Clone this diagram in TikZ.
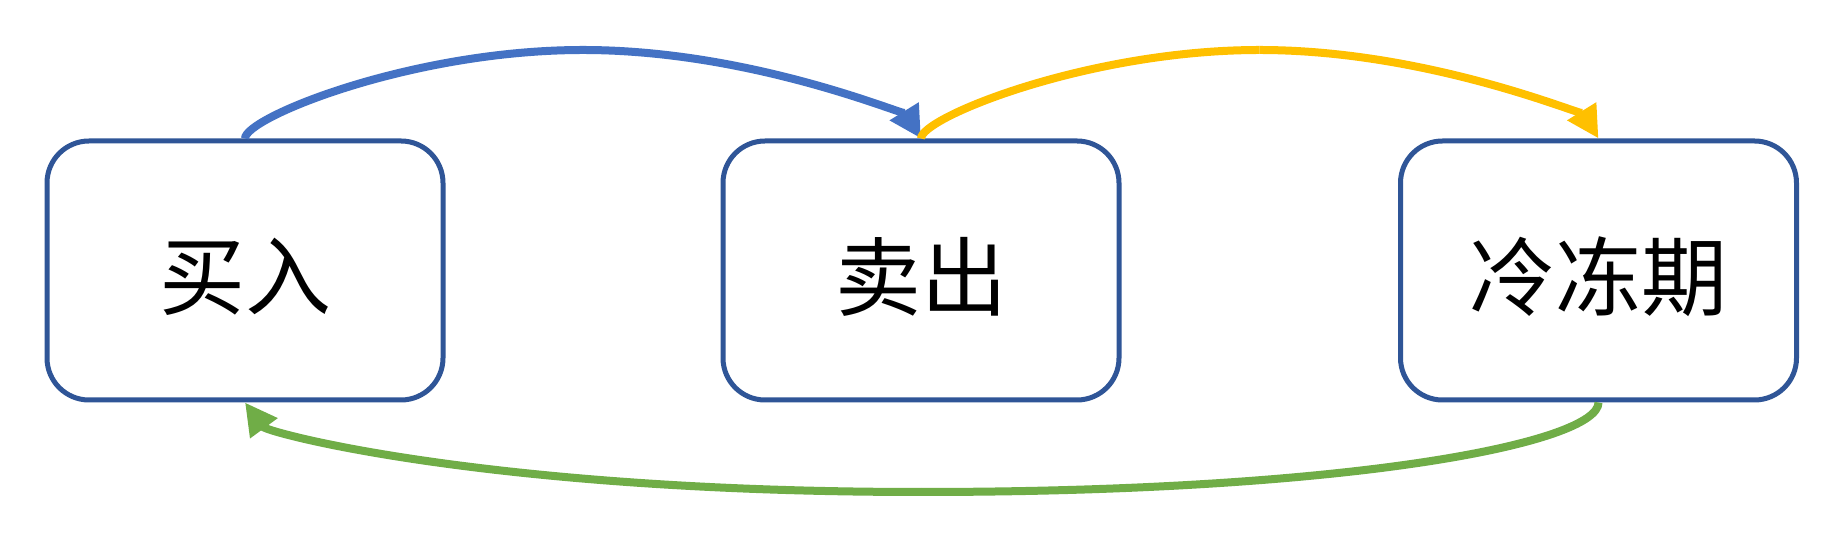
\documentclass[tikz,border=0pt]{standalone}
\usepackage{fontspec}
\newfontfamily\cjk{Noto Sans CJK SC}
\usetikzlibrary{arrows.meta}
\definecolor{boxblue}{HTML}{2F5597}
\definecolor{arrblue}{HTML}{4472C4}
\definecolor{arryellow}{HTML}{FFC000}
\definecolor{arrgreen}{HTML}{70AD47}
\tikzset{
  statebox/.style={draw=boxblue, line width=5pt, rounded corners=42pt,
    minimum width=396pt, minimum height=259pt, inner sep=0pt, fill=white},
  statetext/.style={font=\cjk\fontsize{86pt}{90pt}\selectfont, inner sep=0pt},
  flowline/.style={line width=8pt},
  flow/.style={line width=8pt, -{Triangle[length=32pt,width=32pt]}},
}
\begin{document}
\begin{tikzpicture}[x=1pt,y=1pt]
\useasboundingbox (0,0) rectangle (1840,537);
\fill[white] (0,0) rectangle (1840,537);
\node[statebox] (b1) at (245,266.5) {};
\node[statebox] (b2) at (921,266.5) {};
\node[statebox] (b3) at (1598.5,266.5) {};
\node[statetext] (t1) at (245,260) {买入};
\node[statetext] (t2) at (921,260) {卖出};
\node[statetext] (t3) at (1598.5,260) {冷冻期};
\coordinate (p1) at (583,487);
\coordinate (p2) at (1259.5,487);
\coordinate (p3) at (921,45);
% blue
\draw[flowline, arrblue] (b1.north) .. controls +(0,21) and +(-171,0) .. (p1);
\draw[flow, arrblue] (p1) .. controls +(171,0) and +(-13,21) .. (b2.north);
% yellow
\draw[flowline, arryellow] (b2.north) .. controls +(0,21) and +(-171,0) .. (p2);
\draw[flow, arryellow] (p2) .. controls +(171,0) and +(-13,21) .. (b3.north);
% green
\draw[flowline, arrgreen] (b3.south) .. controls +(0,-40) and +(435,0) .. (p3);
\draw[flow, arrgreen] (p3) .. controls +(-435,0) and +(22,-30) .. (b1.south);
\end{tikzpicture}
\end{document}
